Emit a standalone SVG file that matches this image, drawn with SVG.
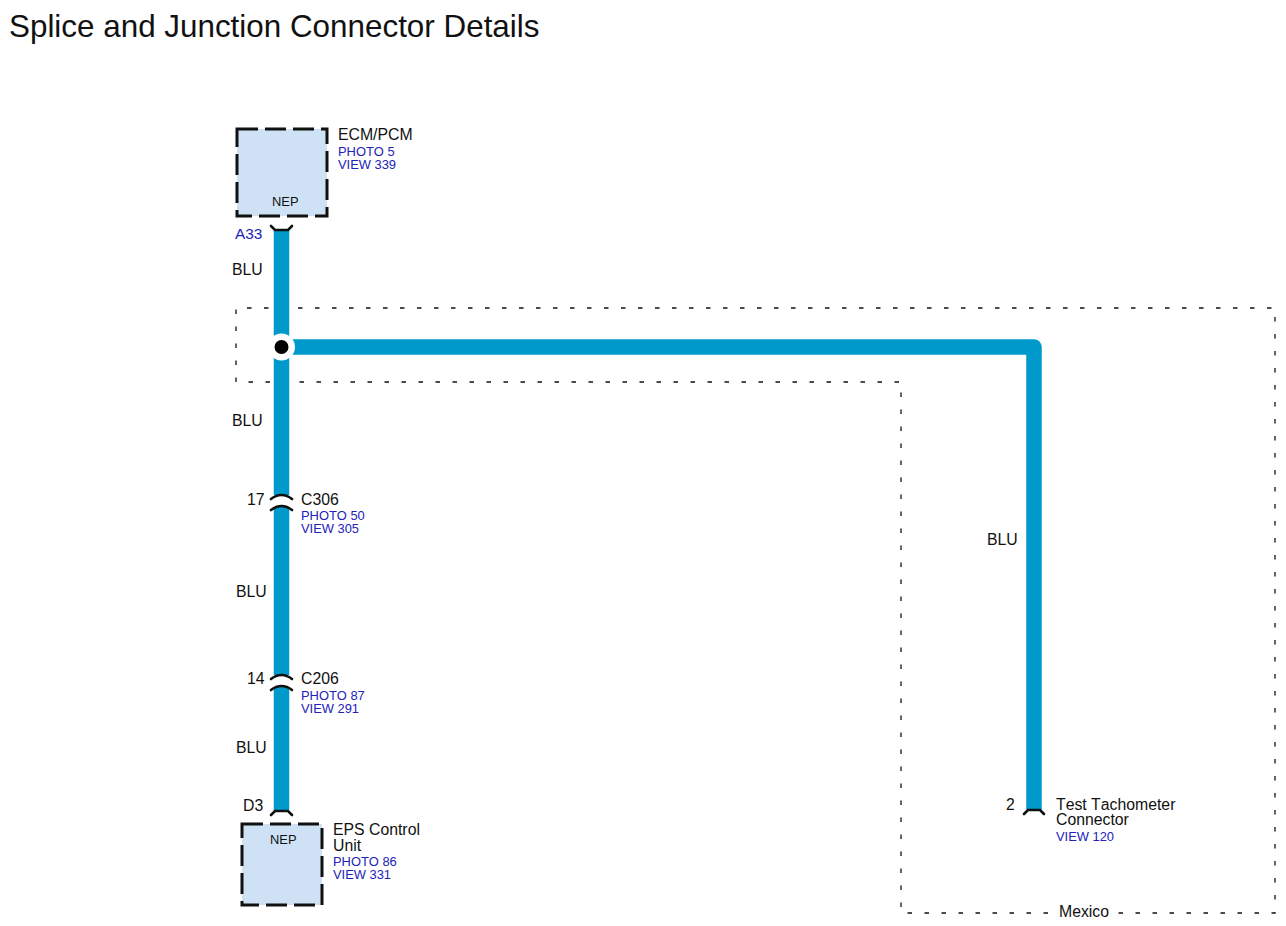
<svg xmlns="http://www.w3.org/2000/svg" width="1286" height="926" viewBox="0 0 1286 926">
<style>
text{font-family:"Liberation Sans",Arial,sans-serif;fill:#111;font-kerning:none}
.t{font-size:15.8px}
.b{font-size:12.9px;fill:#2222bb}
.n{font-size:12.9px}
.a33{font-size:15.4px;fill:#2222bb}
.wire{fill:none;stroke:#0099cc;stroke-width:15.5;stroke-linejoin:round}
.zone{fill:none;stroke:#111;stroke-width:1.3;stroke-dasharray:4.5 12.5}
.box{fill:#cfe2f5;stroke:#111;stroke-width:3;stroke-dasharray:21 7}
.pin{fill:none;stroke:#111;stroke-width:2.6;stroke-linecap:round}
</style>
<rect width="1286" height="926" fill="#fff"/>
<text x="9" y="37" font-size="31.4" id="title">Splice and Junction Connector Details</text>
<g id="zones">
<path class="zone" d="M1048 913H901V382H236V308H1275V913H1118"/>
<text class="t" x="1059" y="917">Mexico</text>
</g>
<g id="connectors">
<path class="wire" d="M281.5 229V495M281.5 507V675M281.5 687V810"/>
<path class="wire" d="M281.5 347H1034V810"/>
</g>
<g id="splice">
<circle cx="281.5" cy="347" r="13.5" fill="#fff"/>
<circle cx="281.5" cy="347" r="7" fill="#000"/>
</g>
<g id="ecm-pcm">
<rect class="box" x="237" y="129" width="90" height="87"/>
<text class="n" x="272" y="206">NEP</text>
<text class="t" x="338" y="140">ECM/PCM</text>
<text class="b" x="338" y="156">PHOTO 5</text>
<text class="b" x="338" y="169">VIEW 339</text>
</g>
<g id="pin-a33">
<path class="pin" d="M271 226L275 230H288L292 226"/>
<text class="a33" x="235" y="239">A33</text>
<text class="t" x="232" y="275">BLU</text>
</g>
<text class="t" x="232" y="426">BLU</text>
<g id="c306">
<path class="pin" d="M271 499Q276 495 281.500 495Q287 495 292 499M271 510Q276 506 281.500 506Q287 506 292 510"/>
<text class="t" x="247" y="505">17</text>
<text class="t" x="301" y="505">C306</text>
<text class="b" x="301" y="520">PHOTO 50</text>
<text class="b" x="301" y="533">VIEW 305</text>
</g>
<text class="t" x="236" y="597">BLU</text>
<g id="c206">
<path class="pin" d="M271 679Q276 675 281.500 675Q287 675 292 679M271 690Q276 686 281.500 686Q287 686 292 690"/>
<text class="t" x="247" y="684">14</text>
<text class="t" x="301" y="684">C206</text>
<text class="b" x="301" y="700">PHOTO 87</text>
<text class="b" x="301" y="713">VIEW 291</text>
</g>
<text class="t" x="236" y="753">BLU</text>
<g id="eps-control-unit">
<path class="pin" d="M271 815L275 811H288L292 815"/>
<text class="t" x="243" y="811">D3</text>
<rect class="box" x="242" y="824" width="80" height="81"/>
<text class="n" x="270" y="844">NEP</text>
<text class="t" x="333" y="835">EPS Control</text>
<text class="t" x="333" y="851">Unit</text>
<text class="b" x="333" y="866">PHOTO 86</text>
<text class="b" x="333" y="879">VIEW 331</text>
</g>
<g id="test-tachometer">
<text class="t" x="987" y="545">BLU</text>
<path class="pin" d="M1024 814L1028 810H1040L1044 814"/>
<text class="t" x="1006" y="810">2</text>
<text class="t" x="1056" y="810">Test Tachometer</text>
<text class="t" x="1056" y="825">Connector</text>
<text class="b" x="1056" y="841">VIEW 120</text>
</g>
</svg>
